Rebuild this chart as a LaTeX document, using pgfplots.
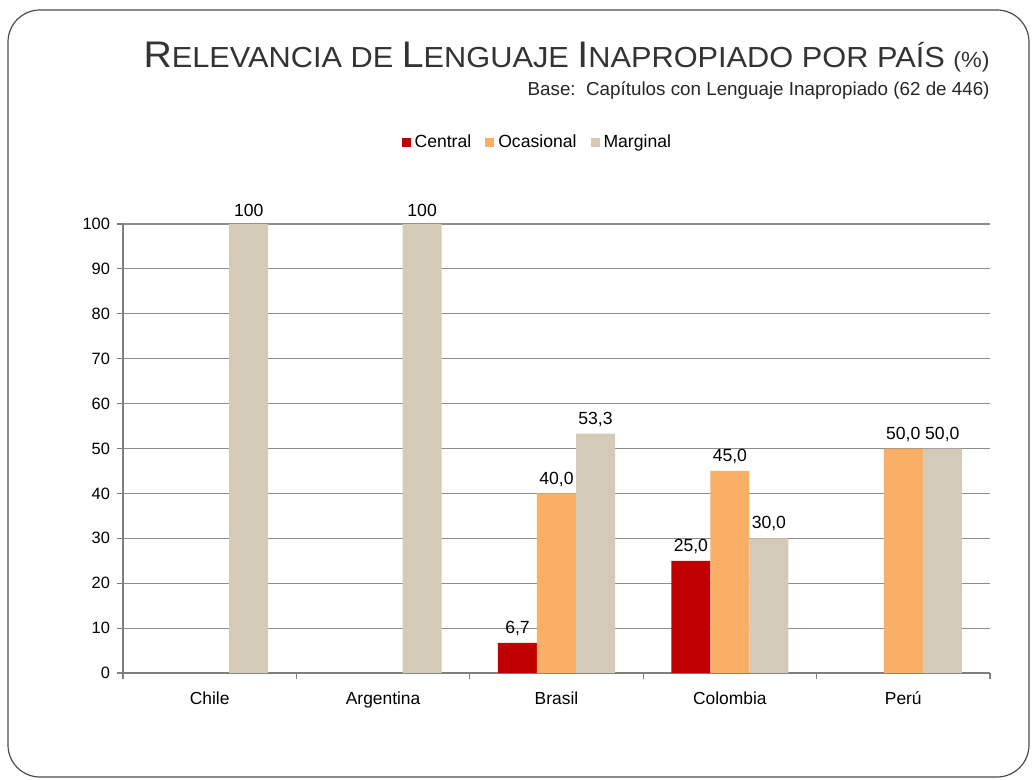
\documentclass[border=0pt]{standalone}
\usepackage{pgfplots}
\pgfplotsset{compat=1.18}
\usepackage{fontspec}
\setmainfont{Liberation Sans}
\newfontfamily\titlefont[FakeStretch=1.06]{Liberation Sans}
\definecolor{central}{HTML}{C00000}
\definecolor{ocas}{HTML}{F9B066}
\definecolor{marg}{HTML}{D3CBB7}
\definecolor{gridc}{HTML}{8C8C8C}
\definecolor{axc}{HTML}{7F7F7F}
\definecolor{titc}{HTML}{333333}
\newcommand\SC[2]{{\fontsize{18.5}{20}\selectfont #1}{\fontsize{14.5}{16}\selectfont #2}}
\begin{document}
\begin{tikzpicture}
\useasboundingbox (0,0) rectangle (517pt,-390pt);
\draw[color=black!70, line width=0.6pt, rounded corners=16pt] (4pt,-5pt) rectangle (514.5pt,-388.5pt);
\node[anchor=base east, inner sep=0, text=titc] at (495pt,-34pt) {\titlefont\fontsize{14.5}{16}\selectfont\SC{R}{ELEVANCIA} \SC{}{DE} \SC{L}{ENGUAJE} \SC{I}{NAPROPIADO} \SC{}{POR PAÍS} {\fontsize{11}{12}\selectfont (\%)}};
\node[anchor=base east, inner sep=0, text=black!85] at (495pt,-48pt) {\fontsize{9.4}{11}\selectfont Base:\ \ Capítulos con Lenguaje Inapropiado (62 de 446)};
\begin{axis}[
  at={(61.5pt,-336.5pt)}, anchor=south west,
  scale only axis, width=433.5pt, height=224.5pt,
  ybar=0pt, bar width=0.225,
  xmin=-0.5, xmax=4.5, ymin=0, ymax=100,
  ytick={0,10,...,100},
  xtick={0,...,4},
  xticklabels={Chile,Argentina,Brasil,Colombia,Perú},
  major x tick style={draw=none},
  minor xtick={-0.5,0.5,1.5,2.5,3.5,4.5},
  axis x line*=bottom, axis y line*=left,
  axis line style={axc, line width=1pt},
  tick align=outside,
  major tick length=3pt, minor tick length=3pt,
  tick style={axc, line width=0.6pt},
  ymajorgrids, grid style={gridc, line width=0.6pt},
  /pgf/number format/assume math mode=true,
  xticklabel style={font=\fontsize{8.7}{10}\selectfont, yshift=-3pt},
  yticklabel style={font=\fontsize{8.2}{9}\selectfont},
  nodes near coords, point meta=explicit symbolic,
  every node near coord/.append style={font=\fontsize{8.8}{10}\selectfont, text=black},
  legend style={at={(0.479,1.182)}, anchor=center, draw=none, fill=none,
    legend columns=3, font=\fontsize{8.8}{10}\selectfont,
    /tikz/every even column/.append style={column sep=5pt}},
  mylegend/.style={legend image code/.code={\fill[##1] (0pt,-2.25pt) rectangle (4.5pt,2.25pt);}},
]
\addplot[fill=central, draw=none, mylegend] coordinates {(2,6.7) [6{,}7] (3,25) [25{,}0]};
\addplot[fill=ocas, draw=none, mylegend] coordinates {(2,40) [40{,}0] (3,45) [45{,}0] (4,50) [50{,}0]};
\addplot[fill=marg, draw=none, mylegend] coordinates {(0,100) [100] (1,100) [100] (2,53.3) [53{,}3] (3,30) [30{,}0] (4,50) [50{,}0]};
\legend{Central,Ocasional,Marginal}
\end{axis}
\end{tikzpicture}
\end{document}
